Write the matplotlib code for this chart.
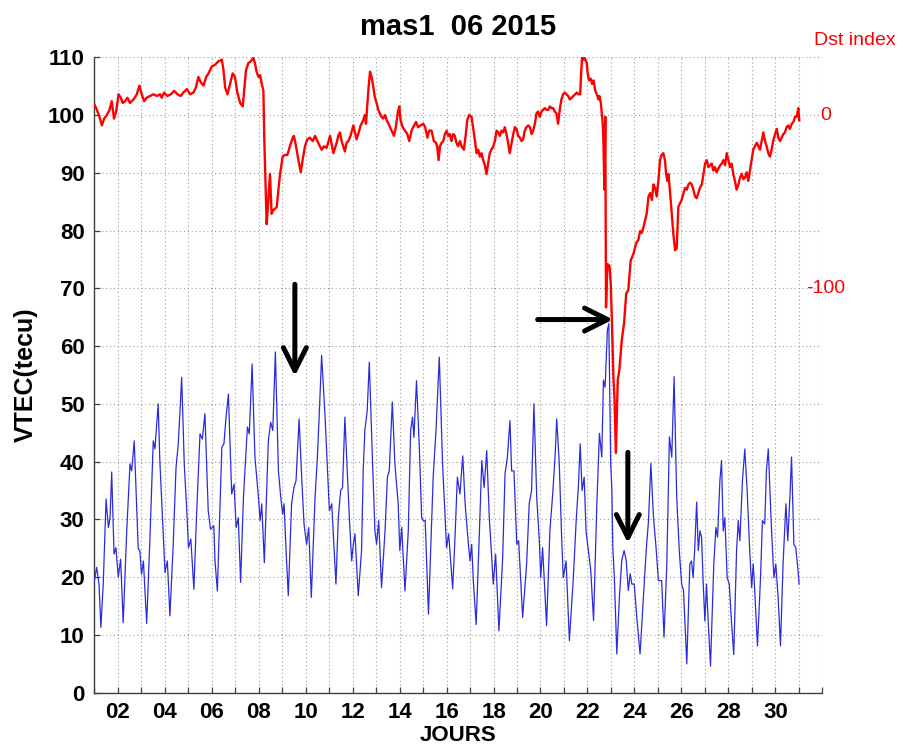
import matplotlib
matplotlib.use("Agg")
import matplotlib.pyplot as plt

plt.rcParams['font.family'] = ['Liberation Sans', 'DejaVu Sans']

# VTEC (TECU) at station mas1, June 2015; time in fractional day of month
vtec_day = [
    1.00, 1.10, 1.20, 1.28, 1.38, 1.50, 1.60, 1.67, 1.74, 1.84, 1.92, 2.02, 2.12, 2.23,
    2.38, 2.52, 2.59, 2.70, 2.80, 2.87, 2.94, 3.01, 3.09, 3.23, 3.37, 3.51, 3.58, 3.65,
    3.72, 3.79, 3.94, 4.01, 4.11, 4.22, 4.36, 4.48, 4.57, 4.65, 4.72, 4.83, 4.93, 5.01,
    5.11, 5.24, 5.35, 5.50, 5.60, 5.71, 5.85, 5.95, 6.09, 6.14, 6.24, 6.43, 6.52, 6.61,
    6.71, 6.85, 6.95, 7.04, 7.13, 7.23, 7.35, 7.52, 7.60, 7.72, 7.84, 7.99, 8.06, 8.13,
    8.24, 8.41, 8.51, 8.60, 8.71, 8.84, 8.94, 9.02, 9.08, 9.16, 9.26, 9.40, 9.50, 9.59,
    9.72, 9.83, 9.93, 10.04, 10.13, 10.24, 10.40, 10.50, 10.58, 10.68, 10.82, 10.92, 11.01, 11.11,
    11.21, 11.29, 11.39, 11.49, 11.57, 11.67, 11.77, 11.86, 11.96, 12.03, 12.10, 12.24, 12.38, 12.45,
    12.52, 12.62, 12.71, 12.85, 12.95, 13.02, 13.11, 13.23, 13.38, 13.48, 13.56, 13.69, 13.80, 13.94,
    14.01, 14.09, 14.23, 14.37, 14.47, 14.55, 14.61, 14.72, 14.84, 14.94, 15.01, 15.09, 15.23, 15.43,
    15.55, 15.69, 15.83, 15.93, 16.00, 16.09, 16.26, 16.36, 16.46, 16.57, 16.69, 16.79, 16.93, 17.00,
    17.07, 17.14, 17.26, 17.40, 17.50, 17.60, 17.71, 17.82, 17.92, 17.99, 18.09, 18.23, 18.39, 18.49,
    18.59, 18.70, 18.77, 18.87, 18.99, 19.07, 19.24, 19.41, 19.52, 19.62, 19.72, 19.84, 19.95, 20.01,
    20.09, 20.26, 20.40, 20.52, 20.62, 20.69, 20.80, 20.90, 20.97, 21.09, 21.23, 21.40, 21.52, 21.62,
    21.69, 21.77, 21.86, 21.94, 22.04, 22.14, 22.26, 22.40, 22.51, 22.61, 22.68, 22.75, 22.85, 22.91,
    22.99, 23.04, 23.08, 23.15, 23.25, 23.36, 23.46, 23.56, 23.65, 23.74, 23.82, 23.89, 23.99, 24.10,
    24.24, 24.38, 24.50, 24.60, 24.70, 24.81, 24.92, 25.02, 25.16, 25.26, 25.38, 25.49, 25.59, 25.69,
    25.80, 25.91, 26.01, 26.09, 26.23, 26.36, 26.43, 26.50, 26.57, 26.65, 26.72, 26.79, 26.86, 26.93,
    27.00, 27.07, 27.14, 27.24, 27.38, 27.47, 27.54, 27.64, 27.71, 27.78, 27.85, 27.95, 28.04, 28.13,
    28.23, 28.35, 28.42, 28.49, 28.60, 28.70, 28.80, 28.91, 28.99, 29.06, 29.13, 29.24, 29.37, 29.45,
    29.55, 29.62, 29.70, 29.84, 29.94, 30.02, 30.12, 30.22, 30.33, 30.45, 30.53, 30.62, 30.69, 30.79,
    30.87, 30.97, 31.01,
]
vtec = [
    19.4, 21.7, 18.8, 11.3, 18.8, 33.5, 28.6, 30.3, 38.2, 24.0, 25.1, 20.0, 23.1, 12.1,
    28.0, 39.6, 38.4, 43.6, 32.7, 24.9, 24.6, 20.5, 22.8, 12.0, 26.9, 43.6, 42.2, 46.2,
    50.0, 40.2, 26.9, 20.8, 22.8, 13.3, 25.7, 39.0, 42.8, 48.8, 54.6, 39.6, 32.1, 25.1,
    26.6, 17.9, 30.3, 44.8, 43.9, 48.3, 31.5, 28.3, 28.9, 22.8, 17.6, 42.5, 43.1, 47.7,
    51.7, 34.4, 36.1, 28.6, 30.3, 19.1, 33.8, 46.0, 44.8, 56.9, 40.8, 33.8, 29.8, 32.7,
    22.5, 43.6, 46.8, 45.4, 59.0, 38.4, 33.8, 30.9, 32.7, 25.1, 16.8, 32.7, 35.5, 36.7,
    47.4, 37.3, 29.2, 25.7, 28.6, 16.5, 33.8, 40.8, 48.3, 58.4, 48.3, 39.6, 31.5, 32.7,
    25.1, 18.8, 30.3, 35.0, 35.5, 47.7, 38.4, 30.3, 22.8, 25.7, 27.5, 16.8, 24.6, 38.4,
    45.4, 48.8, 57.2, 39.6, 28.0, 25.7, 29.8, 18.2, 28.0, 37.3, 38.4, 50.3, 39.6, 32.7,
    24.6, 28.6, 17.6, 28.0, 45.4, 47.7, 44.2, 54.0, 42.5, 30.3, 29.8, 29.8, 13.6, 37.3,
    45.4, 58.1, 39.6, 30.9, 25.1, 27.5, 18.0, 26.9, 37.3, 34.4, 41.0, 32.7, 25.7, 22.8,
    25.7, 19.4, 11.8, 28.0, 40.2, 35.5, 41.9, 30.3, 23.4, 18.8, 24.0, 10.7, 23.4, 37.9,
    40.8, 47.1, 38.4, 38.4, 25.7, 26.3, 13.0, 22.3, 32.7, 35.0, 50.0, 33.8, 26.3, 19.9,
    25.1, 11.6, 28.0, 34.4, 40.8, 47.4, 39.6, 26.9, 19.9, 22.8, 9.0, 20.0, 29.8, 36.2,
    43.1, 35.0, 37.3, 28.0, 24.6, 21.2, 12.5, 32.7, 44.9, 40.8, 54.1, 52.9, 62.8, 63.9,
    39.7, 35.0, 25.2, 19.4, 6.7, 16.5, 22.9, 24.6, 22.9, 17.7, 20.6, 18.8, 18.8, 13.1,
    6.7, 16.5, 24.6, 29.8, 39.7, 30.4, 25.2, 19.4, 19.4, 9.6, 22.3, 44.3, 40.8, 54.7,
    33.9, 24.6, 18.8, 17.7, 5.0, 22.3, 22.8, 19.9, 25.1, 33.0, 24.6, 28.0, 26.9, 18.8,
    12.4, 18.8, 12.4, 4.6, 22.3, 28.6, 26.9, 36.7, 40.2, 28.0, 30.3, 19.9, 18.8, 12.4,
    6.6, 24.6, 29.8, 26.3, 36.7, 42.2, 35.0, 24.6, 18.2, 22.3, 17.1, 8.1, 19.9, 29.8,
    29.2, 38.4, 42.2, 28.0, 19.9, 22.3, 16.5, 8.1, 22.3, 32.7, 26.3, 33.8, 40.8, 25.7,
    25.1, 21.1, 18.8,
]

# Dst index (nT), hourly-ish samples over the same days
dst_day = [
    1.01, 1.11, 1.22, 1.32, 1.42, 1.53, 1.65, 1.74, 1.84, 1.93, 2.03, 2.13, 2.21, 2.31,
    2.41, 2.52, 2.67, 2.81, 2.92, 3.02, 3.12, 3.23, 3.38, 3.52, 3.66, 3.80, 3.87, 3.97,
    4.11, 4.26, 4.40, 4.54, 4.68, 4.79, 4.94, 5.08, 5.22, 5.33, 5.43, 5.53, 5.65, 5.76,
    5.86, 6.00, 6.14, 6.28, 6.43, 6.50, 6.57, 6.67, 6.78, 6.89, 6.99, 7.09, 7.21, 7.32,
    7.38, 7.46, 7.56, 7.66, 7.77, 7.84, 7.91, 7.99, 8.06, 8.13, 8.20, 8.24, 8.30, 8.34,
    8.41, 8.48, 8.55, 8.62, 8.70, 8.77, 8.84, 8.91, 9.02, 9.12, 9.22, 9.33, 9.45, 9.50,
    9.59, 9.69, 9.79, 9.87, 9.97, 10.07, 10.18, 10.30, 10.40, 10.50, 10.61, 10.68, 10.78, 10.89,
    11.04, 11.18, 11.32, 11.39, 11.46, 11.53, 11.60, 11.67, 11.74, 11.82, 11.91, 12.03, 12.10, 12.17,
    12.24, 12.34, 12.45, 12.52, 12.57, 12.62, 12.68, 12.74, 12.81, 12.88, 12.95, 13.02, 13.09, 13.16,
    13.23, 13.30, 13.38, 13.45, 13.56, 13.66, 13.76, 13.84, 13.93, 13.99, 14.04, 14.13, 14.23, 14.33,
    14.41, 14.51, 14.58, 14.70, 14.79, 14.89, 15.01, 15.09, 15.18, 15.26, 15.36, 15.46, 15.55, 15.60,
    15.66, 15.72, 15.79, 15.86, 15.93, 16.00, 16.07, 16.14, 16.21, 16.28, 16.35, 16.42, 16.49, 16.57,
    16.64, 16.74, 16.82, 16.88, 16.96, 17.06, 17.13, 17.21, 17.28, 17.35, 17.42, 17.49, 17.56, 17.63,
    17.70, 17.77, 17.84, 17.91, 17.99, 18.06, 18.13, 18.20, 18.27, 18.34, 18.41, 18.48, 18.55, 18.62,
    18.69, 18.77, 18.84, 18.91, 18.98, 19.05, 19.12, 19.19, 19.26, 19.33, 19.40, 19.48, 19.55, 19.62,
    19.69, 19.76, 19.83, 19.90, 19.97, 20.04, 20.11, 20.18, 20.26, 20.33, 20.40, 20.47, 20.54, 20.61,
    20.68, 20.75, 20.82, 20.89, 20.96, 21.04, 21.11, 21.18, 21.25, 21.40, 21.48, 21.55, 21.62, 21.69,
    21.73, 21.77, 21.83, 21.87, 21.91, 21.97, 22.01, 22.07, 22.14, 22.20, 22.26, 22.33, 22.40, 22.47,
    22.51, 22.57, 22.61, 22.65, 22.68, 22.72, 22.76, 22.79, 22.85, 22.94, 22.99, 23.04, 23.11, 23.15,
    23.21, 23.25, 23.29, 23.36, 23.46, 23.56, 23.65, 23.74, 23.84, 23.96, 24.07, 24.17, 24.24, 24.31,
    24.38, 24.45, 24.52, 24.60, 24.67, 24.74, 24.81, 24.88, 24.95, 25.02, 25.09, 25.16, 25.23, 25.30,
    25.35, 25.40, 25.45, 25.52, 25.59, 25.66, 25.73, 25.80, 25.87, 25.94, 26.01, 26.09, 26.16, 26.23,
    26.30, 26.37, 26.44, 26.51, 26.58, 26.65, 26.72, 26.79, 26.87, 26.94, 27.01, 27.08, 27.15, 27.22,
    27.29, 27.36, 27.43, 27.50, 27.57, 27.65, 27.72, 27.79, 27.86, 27.93, 28.00, 28.07, 28.14, 28.21,
    28.28, 28.35, 28.43, 28.50, 28.57, 28.64, 28.71, 28.78, 28.85, 28.92, 28.99, 29.06, 29.13, 29.21,
    29.28, 29.35, 29.42, 29.49, 29.56, 29.63, 29.70, 29.77, 29.84, 29.91, 29.99, 30.06, 30.13, 30.20,
    30.27, 30.34, 30.41, 30.48, 30.55, 30.62, 30.70, 30.77, 30.84, 30.91, 30.98, 31.02,
]
dst = [
    6, 3, -1, -6, -2, 0, 3, 8, -2, 2, 12, 10, 7, 8,
    10, 7, 9, 12, 17, 12, 8, 10, 11, 12, 11, 12, 10, 13,
    11, 12, 14, 12, 11, 13, 15, 12, 13, 16, 22, 19, 17, 22,
    24, 28, 29, 31, 32, 26, 16, 12, 18, 24, 22, 13, 7, 5,
    14, 26, 30, 31, 33, 30, 25, 22, 23, 18, 14, -15, -44, -63,
    -49, -34, -57, -55, -54, -53, -43, -34, -24, -23, -23, -18, -13, -12,
    -18, -26, -33, -26, -18, -14, -13, -15, -12, -15, -18, -20, -18, -19,
    -12, -22, -16, -12, -10, -15, -18, -21, -16, -15, -12, -6, -10, -14,
    -11, -6, -3, 0, -5, 5, 16, 25, 22, 16, 10, 7, 3, 1,
    -1, -2, 0, -3, -6, -9, -12, -7, 2, 5, -3, -7, -9, -11,
    -15, -9, -7, -4, -7, -6, -5, -7, -13, -9, -9, -15, -16, -18,
    -26, -18, -16, -15, -11, -9, -12, -11, -15, -11, -12, -16, -18, -15,
    -18, -20, -11, -3, 0, -1, -7, -15, -22, -20, -24, -22, -26, -29,
    -34, -28, -22, -20, -18, -15, -9, -10, -12, -9, -10, -7, -11, -16,
    -22, -16, -11, -7, -8, -12, -13, -15, -14, -9, -7, -6, -7, -11,
    -9, -5, 1, 2, -1, 2, 3, 4, 3, 3, 5, 4, 4, 2,
    1, -5, 3, 9, 12, 13, 12, 11, 9, 11, 12, 13, 12, 12,
    24, 33, 32, 33, 32, 30, 24, 20, 21, 18, 20, 14, 12, 9,
    11, 7, 1, -5, -15, -43, -1, -111, -86, -87, -97, -118, -153, -163,
    -195, -174, -153, -147, -130, -120, -103, -101, -84, -80, -74, -72, -67, -68,
    -65, -61, -57, -47, -45, -49, -40, -42, -47, -38, -26, -23, -22, -26,
    -34, -38, -34, -45, -57, -69, -78, -77, -53, -51, -49, -45, -42, -43,
    -40, -39, -40, -43, -47, -48, -45, -42, -40, -34, -28, -26, -30, -29,
    -28, -32, -30, -33, -31, -29, -28, -26, -29, -22, -26, -30, -28, -34,
    -38, -43, -40, -36, -34, -37, -36, -33, -38, -32, -26, -20, -18, -16,
    -18, -20, -15, -10, -15, -18, -22, -24, -20, -15, -11, -8, -13, -15,
    -13, -11, -10, -7, -6, -8, -5, -4, -1, -1, 4, -3,
]

# Dst is drawn on the VTEC axis: 0 nT -> 100 TECU, -100 nT -> 70 TECU
DST_ZERO = 100.0
DST_GAIN = 0.3
dst_ticks = [0, -100]

day_ticks = list(range(1, 33))
day_labels = ['%02d' % d if d % 2 == 0 and d <= 30 else '' for d in day_ticks]
vtec_ticks = list(range(0, 111, 10))


def dst_to_axis(v):
    return DST_ZERO + DST_GAIN * v


fig = plt.figure(figsize=(9.06, 7.53), dpi=100)
ax = fig.add_axes([0.1041, 0.0801, 0.8035, 0.8438])

ax.plot(vtec_day, vtec, color='#2b2bdc', lw=0.9, zorder=3)
ax.plot(dst_day, [dst_to_axis(v) for v in dst], color='#ff0000', lw=1.7, zorder=4)

ax.set_xlim(1, 32)
ax.set_ylim(0, 110)
ax.set_xticks(day_ticks)
ax.set_xticklabels(day_labels)
ax.set_yticks(vtec_ticks)

for side in ('top', 'right'):
    ax.spines[side].set_visible(False)
for side in ('left', 'bottom'):
    ax.spines[side].set_color('#404040')
    ax.spines[side].set_linewidth(1.0)

ax.tick_params(direction='in', length=4, width=0.9, color='#404040', pad=7,
               labelsize=16)
for lab in ax.get_xticklabels() + ax.get_yticklabels():
    lab.set_fontweight('bold')

ax.grid(True, color='#9a9a9a', linestyle=(0, (1, 2.5)), linewidth=0.8, zorder=0)

ax.set_title('mas1  06 2015', fontsize=21, fontweight='bold', pad=16)
ax.set_xlabel('JOURS', fontsize=16, fontweight='bold', labelpad=1)
ax.set_ylabel('VTEC(tecu)', fontsize=18, fontweight='bold', labelpad=7)

# Dst scale marks on the right
for v in dst_ticks:
    ax.text(1.005, dst_to_axis(v), str(v), color='#ff0000', fontsize=14,
            ha='center', va='center', transform=ax.get_yaxis_transform(),
            clip_on=False)
ax.text(1.044, 1.027, 'Dst index', color='#ff0000', fontsize=14,
        ha='center', va='center', transform=ax.transAxes, clip_on=False)

# arrows marking the storm response
arrow_kw = dict(arrowstyle='->,head_length=1.1,head_width=0.55', color='black',
                lw=3.6, mutation_scale=15, shrinkA=0, shrinkB=0)
ax.annotate('', xy=(9.54, 54.8), xytext=(9.54, 70.7), arrowprops=arrow_kw, zorder=6)
ax.annotate('', xy=(23.09, 64.6), xytext=(19.88, 64.6), arrowprops=arrow_kw, zorder=6)
ax.annotate('', xy=(23.72, 25.9), xytext=(23.72, 41.6), arrowprops=arrow_kw, zorder=6)

fig.savefig('out.png', dpi=100)
